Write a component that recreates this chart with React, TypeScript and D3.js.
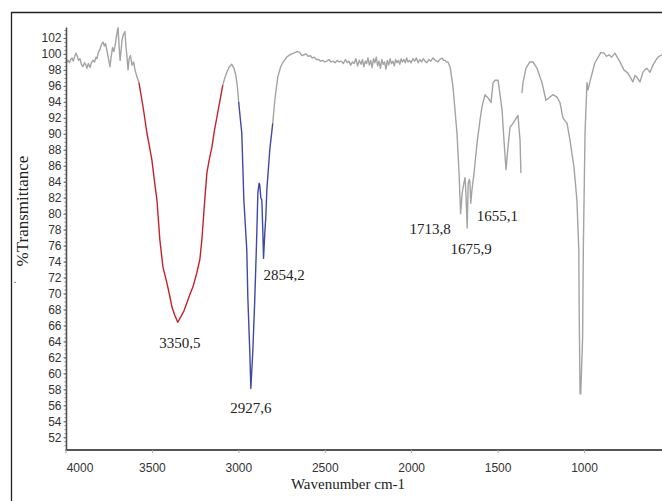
import React, { useEffect, useRef } from 'react';
import * as d3 from 'd3';

const W = 662;
const H = 501;

// spectrum pieces, [wavenumber cm-1, %T]
const baselineHigh: [number, number][] = [
  [3991, 99.0], [3985, 99.2], [3978, 98.9], [3970, 99.3], [3962, 99.5], [3955, 99.1], [3948, 99.6],
  [3940, 100.1], [3933, 99.8], [3925, 99.2], [3916, 99.4], [3908, 98.7], [3899, 98.4], [3890, 98.9],
  [3882, 98.6], [3876, 98.2], [3868, 98.8], [3858, 98.3], [3850, 98.9], [3841, 99.2], [3832, 99.0],
  [3824, 99.6], [3818, 99.4], [3810, 100.2], [3800, 100.6], [3792, 101.2], [3783, 101.5], [3775, 101.0],
  [3768, 101.3], [3760, 100.4], [3752, 99.5], [3743, 98.4], [3736, 99.6], [3728, 100.8], [3720, 100.3],
  [3712, 101.2], [3704, 102.4], [3696, 103.3], [3690, 101.0], [3684, 99.2], [3678, 100.5], [3673, 101.8],
  [3664, 102.5], [3656, 102.8], [3650, 100.9], [3644, 99.6], [3638, 98.0], [3632, 99.4], [3624, 99.8],
  [3615, 98.6], [3606, 99.0], [3598, 98.0], [3590, 97.4], [3581, 96.8], [3575, 96.4],
];

const bandOH: [number, number][] = [
  [3575, 96.4], [3550, 93.2], [3529, 90.1], [3515, 88.5], [3500, 86.7], [3485, 84.0], [3471, 81.7],
  [3460, 78.5], [3454, 76.7], [3436, 73.3], [3413, 71.3], [3395, 69.5], [3384, 68.3], [3370, 67.4],
  [3350.5, 66.4], [3330, 67.2], [3315, 67.8], [3298, 68.8], [3280, 69.9], [3263, 70.8], [3240, 72.6],
  [3223, 74.2], [3211, 76.7], [3195, 81.5], [3182, 85.1], [3168, 86.8], [3153, 88.3], [3140, 90.2],
  [3124, 92.1], [3105, 94.3], [3090, 96.1],
];

const bridge: [number, number][] = [
  [3090, 96.1], [3078, 97.0], [3067, 97.7], [3052, 98.4], [3038, 98.7], [3025, 98.2], [3015, 97.4],
  [3005, 95.8], [2998, 94.0],
];

const bandCH: [number, number][] = [
  [2998, 94.0], [2990, 92.2], [2980, 90.1], [2968, 81.7], [2951, 75.4], [2945, 69.5], [2934, 62.9],
  [2927.6, 58.1], [2916, 62.9], [2905, 69.2], [2899, 73.3], [2893, 77.6], [2887, 82.6], [2880, 83.8],
  [2876, 83.6], [2870, 82.0], [2864, 81.7], [2858, 77.6], [2854.2, 74.4], [2847, 77.5], [2841, 79.6],
  [2835, 83.0], [2818, 88.0], [2801, 91.3],
];

const midRange: [number, number][] = [
  [2801, 91.3], [2789, 94.2], [2772, 97.1], [2755, 98.4], [2743, 98.9], [2720, 99.6], [2702, 99.9],
  [2680, 100.1], [2660, 100.3], [2645, 100.2], [2632, 99.8], [2620, 99.9], [2608, 100.0], [2596, 99.7],
  [2584, 99.8], [2572, 99.5], [2560, 99.6], [2548, 99.3], [2536, 99.3], [2524, 99.1], [2512, 99.2],
  [2500, 99.0], [2488, 99.1], [2476, 99.3], [2464, 99.0], [2452, 99.1], [2440, 98.9], [2428, 99.2],
  [2416, 99.0], [2404, 99.1], [2392, 98.8], [2380, 99.3], [2370, 98.9], [2360, 99.1], [2350, 98.6],
  [2340, 99.0], [2330, 98.8], [2320, 99.4], [2310, 98.5], [2300, 99.2], [2290, 98.7], [2282, 99.3],
  [2274, 98.4], [2266, 99.1], [2258, 98.8], [2250, 99.5], [2242, 98.6], [2234, 99.2], [2226, 98.3],
  [2218, 99.4], [2210, 98.9], [2202, 99.6], [2194, 98.5], [2186, 99.1], [2178, 98.2], [2170, 99.3],
  [2162, 98.7], [2154, 99.0], [2146, 98.1], [2138, 99.2], [2130, 98.6], [2122, 99.4], [2114, 98.8],
  [2106, 99.1], [2098, 98.5], [2090, 99.3], [2082, 98.9], [2074, 99.2], [2066, 98.7], [2058, 99.4],
  [2050, 99.0], [2042, 99.3], [2034, 98.9], [2026, 99.5], [2018, 99.0], [2010, 99.2], [2000, 98.9],
  [1990, 99.4], [1980, 99.1], [1970, 99.5], [1960, 98.9], [1950, 99.3], [1940, 99.0], [1930, 99.4],
  [1920, 99.1], [1909, 98.9], [1898, 99.3], [1886, 99.1], [1874, 99.5], [1860, 99.2], [1845, 99.0],
  [1834, 99.3], [1822, 99.5], [1812, 99.2], [1804, 99.2], [1795, 99.0], [1787, 99.0], [1775, 98.4],
  [1758, 95.9], [1735, 90.1], [1723, 85.1], [1713.8, 80.0], [1705, 82.5], [1698, 83.5], [1688, 84.5],
  [1682, 82.0], [1675.9, 78.2], [1670, 83.8], [1664, 84.3], [1660, 84.0], [1655.1, 81.3], [1648, 83.0],
  [1636, 85.1], [1619, 88.8], [1600, 92.0], [1590, 93.4], [1573, 94.9], [1555, 94.5], [1538, 93.9],
  [1526, 96.4], [1515, 96.7], [1497, 96.7], [1474, 93.0], [1463, 89.2], [1451, 85.5], [1440, 88.3],
  [1428, 90.8], [1411, 91.3], [1382, 92.3], [1370, 89.2], [1365, 85.1],
];

const fingerprint: [number, number][] = [
  [1359, 95.1], [1353, 96.4], [1336, 98.2], [1313, 99.0], [1295, 99.0], [1272, 98.2], [1243, 96.4],
  [1220, 94.2], [1197, 94.6], [1179, 94.9], [1156, 94.6], [1139, 93.9], [1122, 92.0], [1098, 91.3],
  [1081, 89.2], [1058, 85.8], [1041, 81.7], [1030, 75.4], [1028, 68.3], [1023, 57.5], [1019, 57.4],
  [1008, 64.5], [1004, 75.4], [994, 90.1], [983, 96.4], [977, 95.5], [960, 97.0], [937, 98.9],
  [902, 100.2], [884, 100.1], [870, 99.7], [855, 99.9], [840, 99.6], [821, 100.1], [792, 99.0],
  [769, 98.0], [746, 97.6], [730, 97.0], [717, 96.5], [705, 97.3], [694, 97.1], [676, 96.5],
  [659, 97.7], [648, 98.0], [636, 98.2], [618, 97.7], [601, 98.6], [585, 99.2], [572, 99.6],
  [549, 99.9], [540, 100.1],
];

const peakLabels = [
  { wave: 3350.5, t: 66.4, text: '3350,5' },
  { wave: 2927.6, t: 58.1, text: '2927,6' },
  { wave: 2854.2, t: 74.4, text: '2854,2' },
  { wave: 1713.8, t: 80.0, text: '1713,8' },
  { wave: 1675.9, t: 78.2, text: '1675,9' },
  { wave: 1655.1, t: 81.3, text: '1655,1' },
];

const xTicks = [4000, 3500, 3000, 2500, 2000, 1500, 1000];
const yTicks = [52, 54, 56, 58, 60, 62, 64, 66, 68, 70, 72, 74, 76, 78, 80, 82, 84, 86, 88, 90, 92, 94, 96, 98, 100, 102];

// label placement relative to its peak
const labelOffsets: Record<string, { dx: number; dy: number; anchor: string }> = {
  '3350,5': { dx: 2, dy: 26, anchor: 'middle' },
  '2927,6': { dx: 0, dy: 24, anchor: 'middle' },
  '2854,2': { dx: 0, dy: 22, anchor: 'start' },
  '1713,8': { dx: -10, dy: 20, anchor: 'end' },
  '1675,9': { dx: 4, dy: 26, anchor: 'middle' },
  '1655,1': { dx: 6, dy: 18, anchor: 'start' },
};

const GRAY = '#a3a3a3';
const RED = '#c8202b';
const BLUE = '#3f48a6';

const App = () => {
  const svgRef = useRef<SVGSVGElement>(null);

  useEffect(() => {
    const svg = d3.select(svgRef.current);
    svg.selectAll('*').remove();

    const left = 66.5;
    const bottom = 450;
    const x = d3.scaleLinear().domain([4000, 540]).range([65.5, 663.5]);
    const y = d3.scaleLinear().domain([50.4, 103.3]).range([bottom, 27.6]);

    svg.append('rect').attr('width', W).attr('height', H).attr('fill', '#fff');

    // outer frame
    svg.append('path')
      .attr('d', `M11.5,${H} V12.5 H${W}`)
      .attr('fill', 'none')
      .attr('stroke', '#222')
      .attr('stroke-width', 1.3);

    svg.append('clipPath').attr('id', 'plot-clip')
      .append('rect').attr('x', left).attr('y', 14).attr('width', W - left).attr('height', bottom - 14);

    const line = d3.line<[number, number]>()
      .x(d => x(d[0]))
      .y(d => y(d[1]));

    const pieces = [
      { data: baselineHigh, color: GRAY },
      { data: bridge, color: GRAY },
      { data: midRange, color: GRAY },
      { data: fingerprint, color: GRAY },
      { data: bandOH, color: RED },
      { data: bandCH, color: BLUE },
    ];

    const g = svg.append('g').attr('clip-path', 'url(#plot-clip)');
    pieces.forEach(p => {
      g.append('path')
        .attr('d', line(p.data))
        .attr('fill', 'none')
        .attr('stroke', p.color)
        .attr('stroke-width', 1.4)
        .attr('stroke-linejoin', 'round');
    });

    // y axis: minor + major
    svg.append('g')
      .attr('transform', `translate(${left},0)`)
      .call(d3.axisLeft(y).tickValues(y.ticks(100).filter(v => v >= 51 && v <= 103)).tickSize(2).tickFormat(() => ''))
      .call(a => a.select('.domain').remove())
      .call(a => a.selectAll('line').attr('stroke', '#777'));

    const yAxis = svg.append('g')
      .attr('transform', `translate(${left},0)`)
      .call(d3.axisLeft(y).tickValues(yTicks).tickSize(3).tickPadding(2).tickFormat(d3.format('d')));
    yAxis.select('.domain').attr('d', `M0,${y(103.3)}V${bottom}`).attr('stroke', '#555').attr('stroke-width', 1.6);
    yAxis.selectAll('line').attr('stroke', '#666');
    yAxis.selectAll('text')
      .attr('font-family', '"Liberation Sans", Arial, sans-serif')
      .attr('font-size', 12)
      .attr('fill', '#333');

    const xAxis = svg.append('g')
      .attr('transform', `translate(0,${bottom})`)
      .call(d3.axisBottom(x).tickValues(xTicks).tickSize(3).tickPadding(10.5).tickFormat(d3.format('d')));
    xAxis.select('.domain').attr('d', `M${left - 1},0H${W}`).attr('stroke', '#555').attr('stroke-width', 2.2);
    xAxis.selectAll('line').attr('stroke', '#aaa');
    xAxis.selectAll('text')
      .attr('font-family', '"Liberation Sans", Arial, sans-serif')
      .attr('font-size', 12)
      .attr('fill', '#333')
      .attr('dx', (d: any) => (d === 4000 ? 14 : 0));

    // peak annotations
    svg.append('g')
      .selectAll('text')
      .data(peakLabels)
      .join('text')
      .attr('x', d => x(d.wave) + labelOffsets[d.text].dx)
      .attr('y', d => y(d.t) + labelOffsets[d.text].dy)
      .attr('text-anchor', d => labelOffsets[d.text].anchor)
      .attr('font-family', '"Liberation Serif", "Times New Roman", serif')
      .attr('font-size', 15)
      .attr('fill', '#222')
      .text(d => d.text);

    // axis titles
    svg.append('text')
      .attr('transform', 'translate(28,211) rotate(-90)')
      .attr('text-anchor', 'middle')
      .attr('font-family', '"Liberation Serif", "Times New Roman", serif')
      .attr('font-size', 17)
      .attr('fill', '#222')
      .text('%Transmittance');

    svg.append('text')
      .attr('x', 15).attr('y', 283)
      .attr('text-anchor', 'middle')
      .attr('font-family', '"Liberation Serif", serif')
      .attr('font-size', 10)
      .attr('fill', '#333')
      .text('.');

    svg.append('text')
      .attr('x', 348).attr('y', 489)
      .attr('text-anchor', 'middle')
      .attr('font-family', '"Liberation Serif", "Times New Roman", serif')
      .attr('font-size', 15)
      .attr('fill', '#222')
      .text('Wavenumber cm-1');
  }, []);

  return (
    <svg
      ref={svgRef}
      width={W}
      height={H}
      viewBox={`0 0 ${W} ${H}`}
      style={{ position: 'absolute', left: 0, top: 0, display: 'block' }}
    />
  );
};

export default App;
